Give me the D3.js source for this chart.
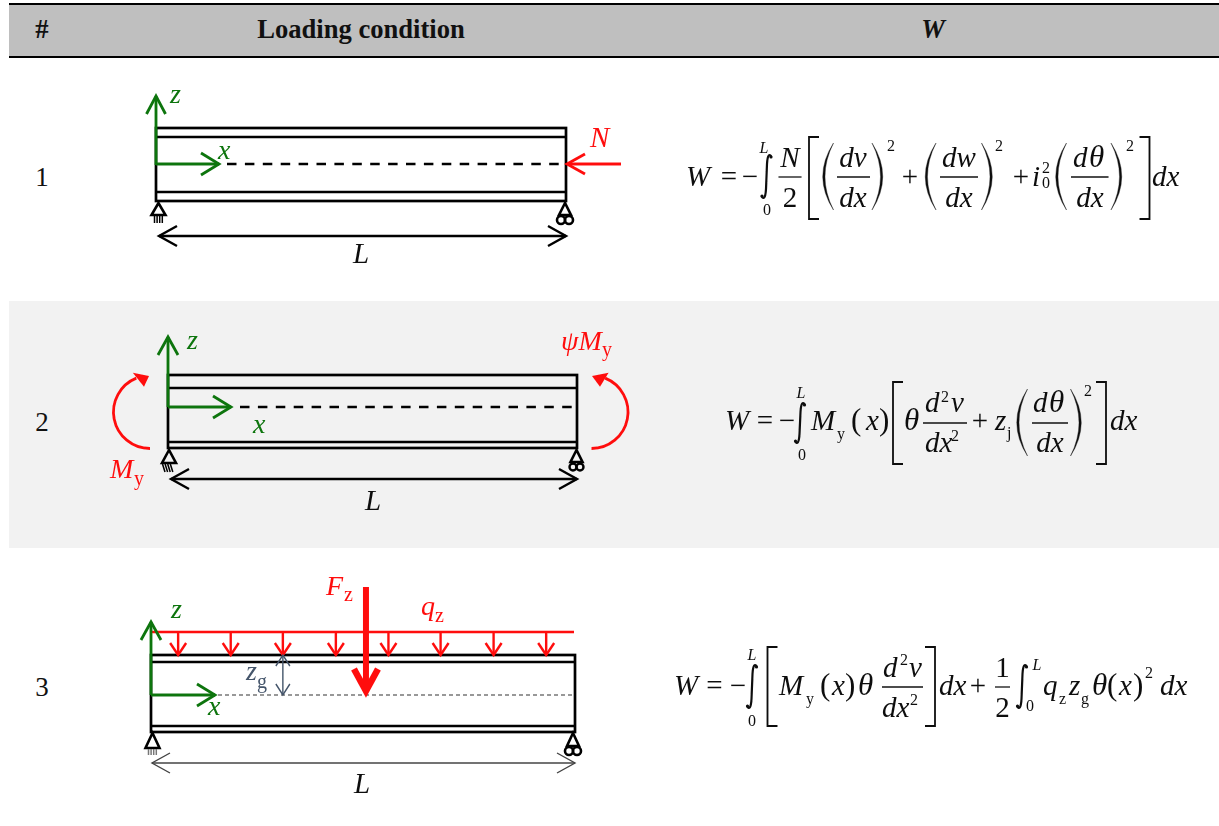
<!DOCTYPE html>
<meta charset="utf-8">
<style>
body { margin: 0; background: #fff; }
svg { display: block; }
text { font-family: "Liberation Serif", serif; fill: #111; }
</style>
<body>
<svg width="1219" height="826"></svg>
</body>
<script src="https://d3js.org/d3.v7.min.js"></script>
<script>
var headerLabels = ["#", "Loading condition", "W"];
var rowNumbers = ["1", "2", "3"];
// along-span positions (0 = left end, 1 = right end) of the row 3 loads
var udlArrows = [0.064, 0.188, 0.311, 0.436, 0.56, 0.683, 0.808, 0.932];
var pointLoadAt = [0.507];
var zgAt = [0.311];

var green = "#107510", red = "#ff1010", slate = "#44546a", ink = "#111";

var svg = d3.select("svg");

// ---- table shell
var rowY = d3.scaleOrdinal().domain(rowNumbers).range([186, 431, 696]);
var headX = d3.scaleOrdinal().domain(headerLabels).range([42, 361, 933]);

svg.append("rect").attr("x", 9).attr("y", 4).attr("width", 1210).attr("height", 53).attr("fill", "#bfbfbf");
svg.append("rect").attr("x", 9).attr("y", 301).attr("width", 1210).attr("height", 247).attr("fill", "#f2f2f2");
[4, 57].forEach(function(y) {
    svg.append("line").attr("x1", 9).attr("x2", 1219).attr("y1", y).attr("y2", y)
        .attr("stroke", "#000").attr("stroke-width", 2);
});

svg.selectAll(".head").data(headerLabels).enter().append("text")
    .attr("class", "head")
    .attr("x", function(d) { return headX(d); })
    .attr("y", 38)
    .attr("text-anchor", "middle")
    .attr("font-size", 26.6)
    .attr("font-weight", "bold")
    .attr("font-style", function(d) { return d == "W" ? "italic" : "normal"; })
    .text(function(d) { return d; });

svg.selectAll(".num").data(rowNumbers).enter().append("text")
    .attr("class", "num")
    .attr("x", 42)
    .attr("y", function(d) { return rowY(d); })
    .attr("text-anchor", "middle")
    .attr("font-size", 27)
    .text(function(d) { return d; });

// ---- helpers
var defs = svg.append("defs");
defs.append("filter").attr("id", "soft").append("feGaussianBlur").attr("stdDeviation", 0.5);
defs.append("filter").attr("id", "eqsoft").append("feGaussianBlur").attr("stdDeviation", 0.35);

function seg(g, x1, y1, x2, y2, color, w) {
    return g.append("line").attr("x1", x1).attr("y1", y1).attr("x2", x2).attr("y2", y2)
        .attr("stroke", color).attr("stroke-width", w);
}

// open V head arrow, tip at x2,y2
function arrow(g, x1, y1, x2, y2, color, w, back, half) {
    seg(g, x1, y1, x2, y2, color, w);
    head(g, x1, y1, x2, y2, color, w, back, half);
}
function head(g, x1, y1, x2, y2, color, w, back, half) {
    var a = Math.atan2(y2 - y1, x2 - x1);
    var c = Math.cos(a), s = Math.sin(a);
    var p = d3.path();
    p.moveTo(x2 - back * c - half * s, y2 - back * s + half * c);
    p.lineTo(x2, y2);
    p.lineTo(x2 - back * c + half * s, y2 - back * s - half * c);
    g.append("path").attr("d", p.toString()).attr("fill", "none")
        .attr("stroke", color).attr("stroke-width", w);
}

function label(g, x, y, s, size, color, italic, anchor) {
    return g.append("text").attr("x", x).attr("y", y).attr("font-size", size)
        .attr("font-style", italic ? "italic" : "normal")
        .attr("text-anchor", anchor || "start")
        .style("fill", color || ink)
        .text(s);
}

function beam(g, b) {
    g.append("rect").attr("x", b.x(0)).attr("y", b.top).attr("width", b.x(1) - b.x(0)).attr("height", b.bot - b.top)
        .attr("fill", "none").attr("stroke", "#000").attr("stroke-width", 2.7);
    seg(g, b.x(0), b.flT, b.x(1), b.flT, "#000", 2.7);
    seg(g, b.x(0), b.flB, b.x(1), b.flB, "#000", 2.7);
}

function pinSupport(g, x, apex, base, hatchTo, slant, hatchColor) {
    var tri = d3.path();
    tri.moveTo(x, apex); tri.lineTo(x - 7, base); tri.lineTo(x + 7, base); tri.closePath();
    g.append("path").attr("d", tri.toString()).attr("fill", "none").attr("stroke", "#000").attr("stroke-width", 2.6);
    d3.range(-4, 5, 2.6).forEach(function(dx) {
        seg(g, x + dx + slant, base + 1, x + dx, hatchTo, hatchColor || "#000", 1.5);
    });
}

function rollerSupport(g, x, apex, base, cy, r, w) {
    var tri = d3.path();
    tri.moveTo(x, apex); tri.lineTo(x - 6, base); tri.lineTo(x + 6, base); tri.closePath();
    g.append("path").attr("d", tri.toString()).attr("fill", "none").attr("stroke", "#000").attr("stroke-width", 2.6);
    [-r, r].forEach(function(dx) {
        g.append("circle").attr("cx", x + dx).attr("cy", cy).attr("r", r)
            .attr("fill", "none").attr("stroke", "#000").attr("stroke-width", w);
    });
}

// ---- row 1 diagram
var d1 = svg.append("g").attr("filter", "url(#soft)");
var b1 = { x: d3.scaleLinear().domain([0, 1]).range([156, 566]), top: 128, flT: 137, flB: 192, bot: 201 };
seg(d1, 227, 164, 564, 164, "#000", 2.4).attr("stroke-dasharray", "9.5,8.4");
beam(d1, b1);
arrow(d1, 156, 165, 156, 96, green, 2.8, 18, 9.5);
arrow(d1, 156, 164, 219, 164, green, 2.8, 18, 11);
label(d1, 170, 103, "z", 28, green, true);
label(d1, 218, 159, "x", 28, green, true);
arrow(d1, 621, 164, 567, 164, red, 2.8, 18, 10);
label(d1, 590, 147, "N", 29, red, true);
pinSupport(d1, 158.5, 203, 215, 223, 0, "#000");
rollerSupport(d1, 565, 203, 215, 220, 4, 2.6);
arrow(d1, 159, 236, 566, 236, "#000", 2.4, 18, 10);
head(d1, 566, 236, 159, 236, "#000", 2.4, 18, 10);
label(d1, 361, 263, "L", 29, ink, true, "middle");

// ---- row 2 diagram
var d2 = svg.append("g").attr("filter", "url(#soft)");
var b2 = { x: d3.scaleLinear().domain([0, 1]).range([168, 577]), top: 375, flT: 388, flB: 442, bot: 448 };
seg(d2, 240, 407, 575, 407, "#000", 2.4).attr("stroke-dasharray", "9.5,8.4");
beam(d2, b2);
arrow(d2, 168, 407, 168, 337, green, 2.8, 18, 10);
arrow(d2, 168, 407, 231, 407, green, 2.8, 18, 11);
label(d2, 187, 349, "z", 28, green, true);
label(d2, 253, 433, "x", 28, green, true);

var arcDeg = Math.PI / 180;
var leftArc = d3.path();
leftArc.arc(150, 412, 36.5, 90 * arcDeg, 248 * arcDeg, false);
d2.append("path").attr("d", leftArc.toString()).attr("fill", "none").attr("stroke", red).attr("stroke-width", 2.8);
var rightArc = d3.path();
rightArc.arc(591.5, 412, 36.5, 90 * arcDeg, -68 * arcDeg, true);
d2.append("path").attr("d", rightArc.toString()).attr("fill", "none").attr("stroke", red).attr("stroke-width", 2.8);
[[149, 132.8, 144], [592, 608.6, 600]].forEach(function(m) {
    var h = d3.path();
    h.moveTo(m[0], 376); h.lineTo(m[1], 372.7); h.lineTo(m[2], 386.7); h.closePath();
    d2.append("path").attr("d", h.toString()).attr("fill", red);
});
label(d2, 110, 478, "M", 28, red, true);
label(d2, 134, 485, "y", 20, red, false);
label(d2, 561, 350, "ψM", 28, red, true);
label(d2, 602, 356, "y", 20, red, false);
pinSupport(d2, 169, 450, 463, 472, -2.5, "#000");
rollerSupport(d2, 576.5, 450, 462, 467, 3.5, 2.4);
arrow(d2, 171, 479, 577, 479, "#000", 2.4, 18, 10);
head(d2, 577, 479, 171, 479, "#000", 2.4, 18, 10);
label(d2, 373, 510, "L", 29, ink, true, "middle");

// ---- row 3 diagram
var d3g = svg.append("g").attr("filter", "url(#soft)");
var b3 = { x: d3.scaleLinear().domain([0, 1]).range([151, 575]), top: 655, flT: 662, flB: 726, bot: 732 };
seg(d3g, 218, 695, 574, 695, "#333", 1.2).attr("stroke-dasharray", "4,3");
beam(d3g, b3);
seg(d3g, 152, 632, 574, 632, red, 2.6);
udlArrows.forEach(function(d) {
    arrow(d3g, b3.x(d), 632, b3.x(d), 655, red, 2.4, 12, 8);
});
arrow(d3g, 151, 695, 151, 622, green, 2.8, 18, 10);
arrow(d3g, 151, 695, 215, 695, green, 2.8, 18, 11);
label(d3g, 171, 618, "z", 28, green, true);
label(d3g, 208, 715, "x", 28, green, true);
zgAt.forEach(function(d) {
    arrow(d3g, b3.x(d), 695, b3.x(d), 655, slate, 1.4, 11, 7);
    head(d3g, b3.x(d), 655, b3.x(d), 695, slate, 1.4, 11, 7);
});
label(d3g, 246, 680, "z", 28, slate, true);
label(d3g, 257, 688, "g", 20, slate, false);
pointLoadAt.forEach(function(d) {
    seg(d3g, b3.x(d), 587, b3.x(d), 688, red, 6);
    head(d3g, b3.x(d), 650, b3.x(d), 691, red, 6.5, 22, 12);
});
label(d3g, 326, 595, "F", 28, red, true);
label(d3g, 344, 601, "z", 20, red, false);
label(d3g, 421, 615, "q", 28, red, true);
label(d3g, 435, 622, "z", 20, red, false);
pinSupport(d3g, 152.5, 733, 748, 755, 0, "#777");
rollerSupport(d3g, 573, 733, 746, 751, 4, 2.6);
arrow(d3g, 152, 763, 575, 763, "#444", 1.4, 18, 10);
head(d3g, 575, 763, 152, 763, "#444", 1.4, 18, 10);
label(d3g, 362, 793, "L", 29, ink, true, "middle");

// ---- equation pieces
var eq = svg.append("g").attr("filter", "url(#eqsoft)");

var main = 29, small = 16;
function it(x, y, s, size) { return label(eq, x, y, s, size || main, ink, true); }
function rm(x, y, s, size) { return label(eq, x, y, s, size || main, ink, false); }
function rmc(x, y, s, size) { return label(eq, x, y, s, size || main, ink, false, "middle"); }
function itc(x, y, s, size) { return label(eq, x, y, s, size || main, ink, true, "middle"); }
function bar(x1, x2, y) { seg(eq, x1, y, x2, y, ink, 1.3); }
function dTheta(x, y) { it(x, y, "d"); it(x + 16, y, "θ", 31); }

function bracket(x, y0, y1, serif) {
    var p = d3.path();
    p.moveTo(x + serif, y0); p.lineTo(x, y0); p.lineTo(x, y1); p.lineTo(x + serif, y1);
    eq.append("path").attr("d", p.toString()).attr("fill", "none").attr("stroke", ink).attr("stroke-width", 1.8);
}

// side: -1 left paren, +1 right paren. x = outer-most extent of the bulge
function paren(x, y0, y1, side) {
    var wid = 11, tip = x - side * wid, m = (y0 + y1) / 2;
    var p = d3.path();
    p.moveTo(tip, y0);
    p.quadraticCurveTo(x + side * wid * 0.95, m, tip, y1);
    p.quadraticCurveTo(x + side * wid * 0.55, m, tip, y0);
    eq.append("path").attr("d", p.toString()).attr("fill", ink).attr("stroke", ink).attr("stroke-width", 0.4);
}

function integral(cx, y0, y1) {
    var p = d3.path();
    p.moveTo(cx + 5, y0 + 2);
    p.bezierCurveTo(cx + 3, y0 - 2, cx + 1, y0, cx + 0.5, y0 + 9);
    p.lineTo(cx - 0.5, y1 - 9);
    p.bezierCurveTo(cx - 1, y1, cx - 3, y1 + 2, cx - 5, y1 - 2);
    eq.append("path").attr("d", p.toString()).attr("fill", "none").attr("stroke", ink).attr("stroke-width", 2.2);
    eq.append("circle").attr("cx", cx + 4.5).attr("cy", y0 + 2).attr("r", 1.6).attr("fill", ink);
    eq.append("circle").attr("cx", cx - 4.5).attr("cy", y1 - 2).attr("r", 1.6).attr("fill", ink);
}

// W, row 1
it(686, 186, "W");
rmc(729, 186, "=");
rmc(750, 186, "−");
integral(766.5, 155, 198);
itc(764, 153, "L", small);
rmc(767, 215, "0", small);
itc(790, 167, "N");
bar(778.5, 801.5, 177);
rmc(790, 207, "2");
bracket(809, 137, 219, 10);
paren(822.5, 143, 210, -1);
itc(853, 167, "dv");
bar(837, 870, 177);
itc(853, 207, "dx");
paren(883, 143, 210, 1);
rm(887, 151, "2", small);
rmc(910, 186, "+");
paren(925, 143, 210, -1);
itc(959, 167, "dw");
bar(940, 978, 177);
itc(959, 207, "dx");
paren(992.5, 143, 210, 1);
rm(995, 151, "2", small);
rmc(1021, 186, "+");
it(1032, 186, "i");
rm(1042, 173, "2", small);
rm(1042, 188, "0", small);
paren(1055.5, 143, 210, -1);
dTheta(1073, 167);
bar(1071, 1108.5, 177);
itc(1090, 207, "dx");
paren(1122, 143, 210, 1);
rm(1126, 151, "2", small);
bracket(1149.5, 137, 219, -10);
it(1152, 186, "dx");

// W, row 2
it(725, 430, "W");
rmc(765, 430, "=");
rmc(787, 430, "−");
integral(800, 403, 443);
itc(801, 398, "L", small);
rmc(802, 460, "0", small);
it(811, 430, "M");
rm(837, 439, "y", small);
rm(851, 430, "(", 31);
it(866, 430, "x");
rm(879, 430, ")", 31);
bracket(893, 382, 464, 10);
it(904, 430, "θ", 31);
it(925, 412, "d");
rm(941, 402, "2", small);
it(951, 412, "v");
bar(923, 967, 423);
it(925, 452, "dx");
rm(951, 441, "2", small);
rmc(980, 430, "+");
it(995, 430, "z");
rm(1007, 438, "j", small);
paren(1016.5, 389, 456, -1);
dTheta(1033, 412);
bar(1032, 1068, 423);
itc(1050, 452, "dx");
paren(1081.5, 389, 456, 1);
rm(1084, 396, "2", small);
bracket(1106, 382, 464, -10);
it(1110, 430, "dx");

// W, row 3
it(674, 695, "W");
rmc(714.5, 695, "=");
rmc(738, 695, "−");
integral(752, 665, 708);
itc(752, 660, "L", small);
rmc(752, 726, "0", small);
bracket(767.5, 647, 726, 10);
it(779, 695, "M");
rm(806, 704, "y", small);
rm(820, 695, "(", 31);
it(832, 695, "x");
rm(845, 695, ")", 31);
it(858, 695, "θ", 31);
it(883, 677, "d");
rm(900, 665, "2", small);
it(909, 677, "v");
bar(882, 923, 687);
it(882, 717, "dx");
rm(910, 705, "2", small);
bracket(935, 647, 726, -10);
it(939, 695, "dx");
rmc(978, 695, "+");
rmc(1002.5, 677, "1");
bar(995, 1010, 687);
rmc(1002.5, 717, "2");
integral(1022, 665, 708);
itc(1037, 670, "L", small);
rmc(1030, 711, "0", small);
it(1043, 695, "q");
rm(1059, 704, "z", small);
it(1069, 695, "z");
rm(1081, 704, "g", small);
it(1092, 695, "θ", 31);
rm(1107, 695, "(", 31);
it(1119, 695, "x");
rm(1133, 695, ")", 31);
rm(1145, 678, "2", small);
it(1160, 695, "dx");
</script>
